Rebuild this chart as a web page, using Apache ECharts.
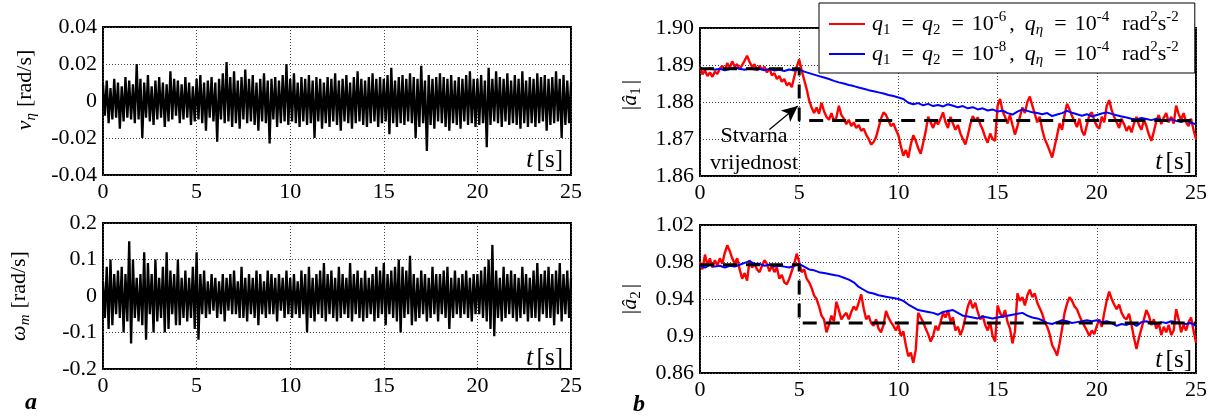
<!DOCTYPE html>
<html><head><meta charset="utf-8">
<script src="https://cdn.jsdelivr.net/npm/echarts@6/dist/echarts.min.js"></script>
<style>html,body{margin:0;padding:0;background:#fff}#c{width:1219px;height:417px}</style>
</head><body><div id="c"></div>
<script>
// ---------------- DATA ----------------
const tTicks = [0, 5, 10, 15, 20, 25];
const dtNoise = 0.1;   // sampling grid of noise traces [s]
const dtRed = 0.125;   // sampling grid of red estimates [s]
const dtBlue = 0.25;   // sampling grid of blue estimates [s]

const vEta = [
0.009,-0.008,0.011,-0.012,0.007,-0.010,0.012,-0.009,0.010,-0.015,
0.008,-0.011,0.013,-0.009,0.011,-0.010,0.009,-0.012,0.020,-0.010,
0.012,-0.020,0.010,-0.009,0.014,-0.011,0.008,-0.013,0.011,-0.010,
0.013,-0.009,0.010,-0.014,0.009,-0.011,0.016,-0.010,0.012,-0.008,
0.011,-0.012,0.009,-0.010,0.013,-0.009,0.010,-0.013,0.008,-0.011,
0.012,-0.010,0.014,-0.012,0.010,-0.016,0.011,-0.009,0.013,-0.011,
0.010,-0.022,0.012,-0.010,0.015,-0.012,0.021,-0.011,0.013,-0.014,
0.016,-0.012,0.011,-0.015,0.013,-0.010,0.017,-0.012,0.012,-0.011,
0.014,-0.013,0.010,-0.016,0.012,-0.011,0.015,-0.012,0.011,-0.023,
0.012,-0.010,0.013,-0.014,0.011,-0.012,0.014,-0.011,0.020,-0.013,
0.012,-0.011,0.015,-0.012,0.010,-0.014,0.013,-0.011,0.012,-0.013,
0.014,-0.012,0.011,-0.020,0.013,-0.011,0.012,-0.015,0.010,-0.012,
0.013,-0.014,0.012,-0.011,0.015,-0.013,0.011,-0.016,0.012,-0.011,
0.014,-0.012,0.010,-0.015,0.013,-0.012,0.016,-0.011,0.012,-0.013,
0.011,-0.014,0.013,-0.012,0.015,-0.011,0.012,-0.014,0.013,-0.012,
0.012,-0.011,0.014,-0.018,0.018,-0.012,0.011,-0.014,0.013,-0.012,
0.014,-0.013,0.012,-0.011,0.015,-0.012,0.013,-0.020,0.012,-0.014,
0.019,-0.012,0.011,-0.027,0.014,-0.013,0.012,-0.015,0.013,-0.011,
0.015,-0.012,0.013,-0.014,0.012,-0.016,0.014,-0.012,0.011,-0.013,
0.013,-0.015,0.012,-0.011,0.014,-0.013,0.016,-0.012,0.012,-0.014,
0.012,-0.013,0.014,-0.012,0.011,-0.025,0.018,-0.013,0.012,-0.011,
0.016,-0.012,0.013,-0.014,0.012,-0.011,0.015,-0.013,0.011,-0.012,
0.014,-0.013,0.012,-0.015,0.016,-0.012,0.011,-0.014,0.013,-0.012,
0.012,-0.014,0.015,-0.012,0.013,-0.011,0.014,-0.016,0.012,-0.013,
0.013,-0.012,0.016,-0.011,0.012,-0.020,0.014,-0.013,0.011,-0.012,
0.010];

const omegaM = [
0.04,-0.06,0.08,-0.09,0.10,-0.08,0.06,-0.05,0.07,-0.06,
0.08,-0.10,0.06,-0.07,0.15,-0.13,0.10,-0.06,0.05,-0.07,
0.06,-0.08,0.12,-0.12,0.09,-0.05,0.06,-0.10,0.10,-0.07,
0.05,-0.06,0.08,-0.10,0.12,-0.09,0.07,-0.05,0.06,-0.08,
0.10,-0.08,0.05,-0.06,0.07,-0.07,0.05,-0.06,0.08,-0.09,
0.12,-0.12,0.06,-0.05,0.07,-0.06,0.04,-0.05,0.06,-0.04,
0.05,-0.06,0.04,-0.05,0.06,-0.07,0.05,-0.04,0.06,-0.05,
0.07,-0.05,0.04,-0.06,0.08,-0.06,0.05,-0.07,0.06,-0.05,
0.05,-0.06,0.07,-0.08,0.06,-0.05,0.04,-0.06,0.07,-0.05,
0.06,-0.05,0.05,-0.07,0.06,-0.04,0.05,-0.06,0.07,-0.05,
0.05,-0.06,0.06,-0.05,0.04,-0.06,0.07,-0.05,0.06,-0.10,
0.08,-0.06,0.05,-0.07,0.06,-0.05,0.07,-0.06,0.09,-0.07,
0.06,-0.05,0.07,-0.06,0.05,-0.07,0.08,-0.06,0.06,-0.05,
0.05,-0.06,0.09,-0.07,0.06,-0.05,0.07,-0.06,0.05,-0.07,
0.07,-0.06,0.05,-0.05,0.06,-0.07,0.08,-0.06,0.07,-0.05,
0.09,-0.08,0.06,-0.05,0.07,-0.06,0.08,-0.07,0.10,-0.10,
0.08,-0.06,0.07,-0.05,0.11,-0.08,0.06,-0.07,0.05,-0.06,
0.07,-0.05,0.06,-0.07,0.05,-0.06,0.08,-0.05,0.06,-0.07,
0.06,-0.05,0.07,-0.06,0.08,-0.09,0.05,-0.06,0.07,-0.05,
0.05,-0.06,0.06,-0.05,0.07,-0.06,0.05,-0.07,0.06,-0.05,
0.06,-0.05,0.07,-0.06,0.08,-0.07,0.10,-0.09,0.14,-0.11,
0.07,-0.06,0.05,-0.07,0.08,-0.06,0.06,-0.05,0.07,-0.06,
0.06,-0.07,0.05,-0.06,0.08,-0.05,0.06,-0.07,0.05,-0.06,
0.07,-0.06,0.09,-0.07,0.06,-0.05,0.07,-0.06,0.08,-0.06,
0.06,-0.08,0.07,-0.05,0.09,-0.07,0.06,-0.05,0.07,-0.06,
0.05];

const a1Red = [
1.8895,1.8875,1.8885,1.8870,1.8880,1.8868,1.8882,1.8876,
1.8890,1.8898,1.8885,1.8905,1.8892,1.8910,1.8896,1.8902,
1.8888,1.8900,1.8912,1.8925,1.8908,1.8895,1.8902,1.8885,
1.8898,1.8887,1.8895,1.8880,1.8890,1.8872,1.8878,1.8862,
1.8870,1.8855,1.8862,1.8845,1.8852,1.8840,1.8868,1.8895,
1.8915,1.8885,1.8860,1.8835,1.8805,1.8785,1.8770,1.8785,
1.8768,1.8798,1.8775,1.8760,1.8752,1.8770,1.8748,1.8758,
1.8790,1.8765,1.8755,1.8740,1.8752,1.8735,1.8745,1.8730,
1.8738,1.8722,1.8728,1.8712,1.8700,1.8685,1.8692,1.8705,
1.8730,1.8755,1.8772,1.8765,1.8750,1.8735,1.8742,1.8725,
1.8710,1.8680,1.8655,1.8670,1.8650,1.8685,1.8710,1.8695,
1.8675,1.8660,1.8690,1.8720,1.8760,1.8745,1.8730,1.8748,
1.8740,1.8755,1.8772,1.8745,1.8730,1.8760,1.8742,1.8725,
1.8738,1.8715,1.8700,1.8685,1.8710,1.8740,1.8762,1.8748,
1.8758,1.8740,1.8725,1.8705,1.8690,1.8715,1.8700,1.8695,
1.8790,1.8808,1.8775,1.8760,1.8742,1.8765,1.8738,1.8712,
1.8735,1.8760,1.8785,1.8770,1.8800,1.8815,1.8790,1.8768,
1.8745,1.8760,1.8725,1.8700,1.8685,1.8668,1.8650,1.8680,
1.8710,1.8742,1.8725,1.8765,1.8795,1.8780,1.8762,1.8748,
1.8732,1.8755,1.8722,1.8710,1.8738,1.8765,1.8772,1.8750,
1.8735,1.8728,1.8760,1.8745,1.8790,1.8805,1.8778,1.8760,
1.8745,1.8730,1.8755,1.8740,1.8722,1.8735,1.8718,1.8742,
1.8760,1.8738,1.8725,1.8752,1.8735,1.8712,1.8695,1.8720,
1.8748,1.8765,1.8740,1.8758,1.8770,1.8745,1.8760,1.8742,
1.8790,1.8768,1.8752,1.8770,1.8745,1.8735,1.8755,1.8725,
1.8700];

const a1Blue = [
1.8892,1.8888,1.8891,1.8887, 1.8890,1.8886,1.8889,1.8893,
1.8890,1.8887,1.8891,1.8888, 1.8890,1.8886,1.8889,1.8885,
1.8887,1.8884,1.8888,1.8885, 1.8888,1.8882,1.8878,1.8874,
1.8870,1.8866,1.8862,1.8857, 1.8853,1.8850,1.8846,1.8843,
1.8839,1.8836,1.8832,1.8829, 1.8826,1.8823,1.8819,1.8816,
1.8812,1.8808,1.8798,1.8794, 1.8797,1.8791,1.8795,1.8789,
1.8792,1.8788,1.8794,1.8790, 1.8786,1.8789,1.8783,1.8786,
1.8780,1.8783,1.8777,1.8780, 1.8774,1.8777,1.8770,1.8766,
1.8774,1.8780,1.8776,1.8772, 1.8770,1.8767,1.8770,1.8762,
1.8766,1.8770,1.8776,1.8771, 1.8767,1.8763,1.8767,1.8761,
1.8765,1.8769,1.8772,1.8768, 1.8764,1.8761,1.8758,1.8755,
1.8753,1.8757,1.8754,1.8751, 1.8755,1.8752,1.8750,1.8753,
1.8749,1.8746,1.8750,1.8744,
1.8740];

const a1TrueT = [0, 5, 5, 25];
const a1True = [1.889, 1.889, 1.875, 1.875];

const a2Red = [
0.980,0.972,0.988,0.976,0.984,0.974,0.982,0.976,
0.984,0.978,0.990,0.998,0.992,0.984,0.978,0.984,
0.972,0.962,0.968,0.960,0.982,0.974,0.978,0.972,
0.969,0.976,0.982,0.978,0.970,0.976,0.969,0.974,
0.962,0.966,0.958,0.956,0.962,0.970,0.978,0.989,
0.980,0.969,0.972,0.962,0.958,0.952,0.944,0.940,
0.932,0.922,0.918,0.904,0.912,0.922,0.916,0.937,
0.928,0.918,0.922,0.925,0.918,0.926,0.932,0.928,
0.936,0.945,0.930,0.918,0.922,0.914,0.911,0.918,
0.908,0.904,0.912,0.927,0.920,0.915,0.911,0.906,
0.912,0.900,0.905,0.890,0.878,0.882,0.871,0.885,
0.925,0.920,0.915,0.908,0.902,0.894,0.900,0.911,
0.906,0.915,0.925,0.920,0.928,0.916,0.920,0.906,
0.910,0.901,0.908,0.920,0.932,0.939,0.930,0.936,
0.926,0.918,0.922,0.912,0.906,0.915,0.900,0.894,
0.933,0.925,0.920,0.928,0.915,0.908,0.892,0.905,
0.946,0.938,0.942,0.933,0.944,0.950,0.942,0.946,
0.936,0.930,0.924,0.915,0.910,0.902,0.890,0.885,
0.879,0.892,0.908,0.925,0.935,0.942,0.938,0.932,
0.929,0.922,0.916,0.911,0.906,0.900,0.906,0.902,
0.911,0.918,0.910,0.925,0.938,0.948,0.940,0.934,
0.929,0.934,0.925,0.920,0.918,0.924,0.912,0.898,
0.886,0.898,0.908,0.918,0.928,0.922,0.912,0.918,
0.908,0.914,0.901,0.910,0.904,0.912,0.901,0.906,
0.929,0.918,0.904,0.912,0.906,0.915,0.920,0.906,
0.893];

const a2Blue = [
0.976,0.974,0.977,0.975, 0.976,0.974,0.976,0.975,
0.977,0.979,0.981,0.978, 0.978,0.976,0.977,0.975,
0.976,0.975,0.974,0.976, 0.978,0.975,0.972,0.971,
0.969,0.968,0.967,0.966, 0.965,0.963,0.961,0.958,
0.953,0.950,0.947,0.946, 0.944,0.943,0.942,0.941,
0.940,0.938,0.934,0.931, 0.928,0.927,0.926,0.925,
0.923,0.926,0.927,0.928, 0.925,0.922,0.921,0.920,
0.919,0.921,0.920,0.919, 0.920,0.921,0.922,0.923,
0.924,0.925,0.922,0.920, 0.919,0.917,0.914,0.913,
0.915,0.917,0.916,0.914, 0.915,0.916,0.917,0.916,
0.917,0.915,0.916,0.914, 0.911,0.913,0.912,0.914,
0.911,0.915,0.916,0.914, 0.913,0.915,0.914,0.916,
0.915,0.914,0.913,0.914,
0.911];

const a2TrueT = [0, 5, 5, 25];
const a2True = [0.977, 0.977, 0.914, 0.914];

const legendRedName = 'r6';
const legendBlueName = 'r8';

// ---------------- BUILD ----------------
const pair = (arr, dt) => arr.map((v, i) => [i * dt, v]);
const zipT = (ts, vs) => ts.map((t, i) => [t, vs[i]]);

const FONT = '"Liberation Serif", "Times New Roman", serif';
const FS = 22;
const mk = (o) => Object.assign({fontFamily: FONT, color: '#000'}, o);
const rich = {
  n: mk({fontSize: FS, lineHeight: 28}),
  i: mk({fontSize: FS, fontStyle: 'italic', lineHeight: 28}),
  s: mk({fontSize: 15, lineHeight: 15, verticalAlign: 'bottom', padding: [0, 3, 0, 0]}),
  si: mk({fontSize: 15, fontStyle: 'italic', lineHeight: 15, verticalAlign: 'bottom', padding: [0, 3, 0, 0]}),
  p: mk({fontSize: 15, lineHeight: 15, verticalAlign: 'top', padding: [0, 3, 0, 0]}),
  p0: mk({fontSize: 15, lineHeight: 15, verticalAlign: 'top'}),
  e: mk({fontSize: FS, lineHeight: 28, padding: [0, 8, 0, 8]}),
  c: mk({fontSize: FS, lineHeight: 28, padding: [0, 10, 0, 0]}),
  r: mk({fontSize: FS, lineHeight: 28, padding: [0, 0, 0, 10]}),
  lab: mk({fontSize: FS, lineHeight: 24}),
  tb: mk({fontSize: 25, lineHeight: 30}),
  ti: mk({fontSize: 25, fontStyle: 'italic', lineHeight: 30}),
  bb: mk({fontSize: 24, fontStyle: 'italic', fontWeight: 'bold', lineHeight: 28})
};

const grids = [
  {left: 103, top: 27, width: 468, height: 148},
  {left: 103, top: 223, width: 468, height: 146},
  {left: 700, top: 28, width: 496, height: 148},
  {left: 700, top: 225, width: 496, height: 148}
].map(g => Object.assign(g, {show: true, borderColor: '#000', borderWidth: 2, backgroundColor: 'transparent'}));

const splitLine = {show: true, lineStyle: {color: '#444', width: 1, type: [1, 2]}};
const wrap = s => '{lab|' + s + '}';

const xAxes = [0, 1, 2, 3].map(k => ({
  type: 'value', gridIndex: k, min: tTicks[0], max: tTicks[tTicks.length - 1], interval: 5,
  axisLine: {show: false}, axisTick: {show: false}, splitLine,
  axisLabel: {margin: 5, rich, formatter: v => wrap(String(v))}
}));

const yName = [
  '{i|ν}{si|η} {n|[rad/s]}',
  '{i|ω}{si|m} {n|[rad/s]}',
  '{n||}{i|â}{s|1}{n||}',
  '{n||}{i|â}{s|2}{n||}'
];
const yCfg = [
  {min: -0.04, max: 0.04, interval: 0.02, fmt: v => String(+v.toFixed(2)), gap: 64, pad: [0, 0, 0, 22]},
  {min: -0.2, max: 0.2, interval: 0.1, fmt: v => String(+v.toFixed(1)), gap: 70, pad: [0, 0, 0, 0]},
  {min: 1.86, max: 1.90, interval: 0.01, fmt: v => v.toFixed(2), gap: 56, pad: [0, 0, 0, 14]},
  {min: 0.86, max: 1.02, interval: 0.04, fmt: v => String(+v.toFixed(2)), gap: 56, pad: [0, 0, 0, 0]}
];
const yAxes = yCfg.map((c, k) => ({
  type: 'value', gridIndex: k, min: c.min, max: c.max, interval: c.interval,
  axisLine: {show: false}, axisTick: {show: false}, splitLine,
  axisLabel: {margin: 6, rich, formatter: v => wrap(c.fmt(v))},
  name: yName[k], nameLocation: 'middle', nameRotate: 90, nameGap: c.gap,
  nameTextStyle: {rich, padding: c.pad}
}));

const legendText = {
  r6: '{i|q}{s|1}{e|=}{i|q}{s|2}{e|=}{n|10}{p|-6}{c|,}{i|q}{si|η}{e|=}{n|10}{p|-4}{r|rad}{p0|2}{n|s}{p|-2}',
  r8: '{i|q}{s|1}{e|=}{i|q}{s|2}{e|=}{n|10}{p|-8}{c|,}{i|q}{si|η}{e|=}{n|10}{p|-4}{r|rad}{p0|2}{n|s}{p|-2}'
};

const noiseSeries = (data, k) => ({
  type: 'line', xAxisIndex: k, yAxisIndex: k, data, showSymbol: false, symbol: 'none',
  lineStyle: {color: '#000', width: 2.3}, animation: false, silent: true
});
const estSeries = (name, data, k, color, w) => ({
  name, type: 'line', xAxisIndex: k, yAxisIndex: k, data, showSymbol: false, symbol: 'none',
  lineStyle: {color, width: w}, itemStyle: {color}, animation: false, silent: true
});
const trueSeries = (data, k, extra) => Object.assign({
  type: 'line', xAxisIndex: k, yAxisIndex: k, data, showSymbol: false, symbol: 'none',
  lineStyle: {color: '#000', width: 3, type: [14, 9]}, animation: false, silent: true, z: 5
}, extra || {});

const series = [
  noiseSeries(pair(vEta, dtNoise), 0),
  noiseSeries(pair(omegaM, dtNoise), 1),
  estSeries(legendRedName, pair(a1Red, dtRed), 2, '#ff0000', 2.4),
  estSeries(legendBlueName, pair(a1Blue, dtBlue), 2, '#0000ff', 2),
  trueSeries(zipT(a1TrueT, a1True), 2, {
    markLine: {
      silent: true, animation: false, symbol: ['none', 'arrow'], symbolSize: [11, 16],
      lineStyle: {color: '#000', width: 1.3, type: 'solid'}, label: {show: false},
      data: [[{coord: [3.5, 1.8726]}, {coord: [4.93, 1.8789]}]]
    }
  }),
  estSeries(legendRedName, pair(a2Red, dtRed), 3, '#ff0000', 2.4),
  estSeries(legendBlueName, pair(a2Blue, dtBlue), 3, '#0000ff', 2),
  trueSeries(zipT(a2TrueT, a2True), 3)
];

const richText = (x, y, text, align) => ({
  type: 'text', x, y, z: 100,
  style: {text, rich, align: align || 'center', verticalAlign: 'middle'}
});

const option = {
  backgroundColor: '#fff',
  animation: false,
  textStyle: {fontFamily: FONT},
  grid: grids, xAxis: xAxes, yAxis: yAxes, series,
  legend: {
    data: [legendRedName, legendBlueName], orient: 'vertical', left: 819, top: 3,
    padding: [7, 13, 5, 10], itemGap: 2, itemWidth: 36, itemHeight: 2, icon: 'rect',
    backgroundColor: '#fff', borderColor: '#000', borderWidth: 1, z: 50,
    selectedMode: false,
    formatter: n => legendText[n],
    textStyle: {rich, padding: [0, 0, 0, 2]}
  },
  graphic: [
    richText(563, 160, '{ti|t} {tb|[s]}', 'right'), richText(563, 358, '{ti|t} {tb|[s]}', 'right'),
    richText(1192, 162, '{ti|t} {tb|[s]}', 'right'), richText(1192, 360, '{ti|t} {tb|[s]}', 'right'),
    richText(754, 136, '{lab|Stvarna}'), richText(754, 163, '{lab|vrijednost}'),
    richText(31, 403, '{bb|a}'), richText(639, 405, '{bb|b}')
  ]
};

const chart = echarts.init(document.getElementById('c'), null, {renderer: 'canvas'});
chart.setOption(option);
</script></body></html>
